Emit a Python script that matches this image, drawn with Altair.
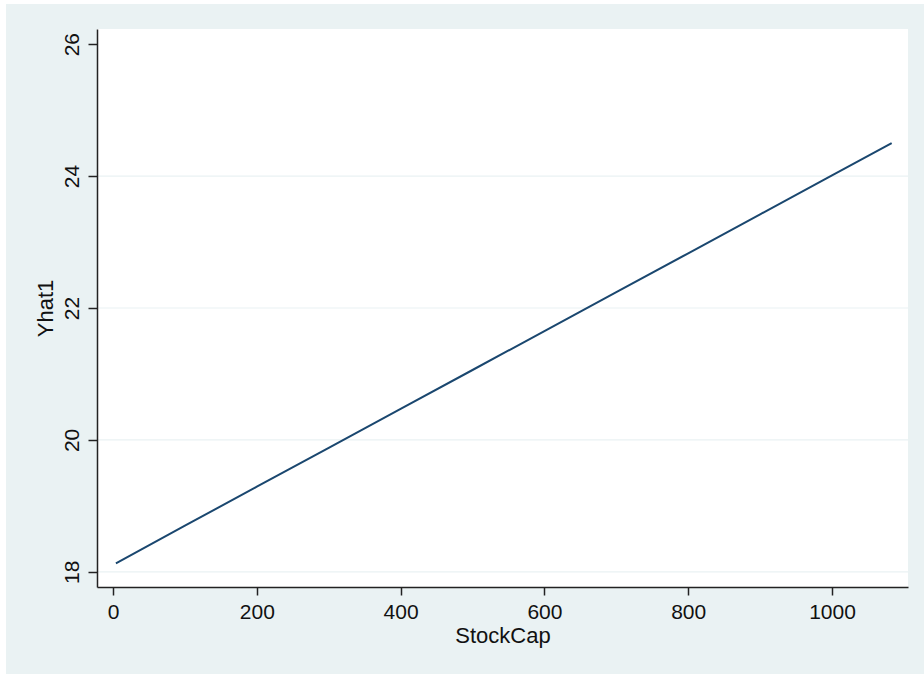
import altair as alt
import pandas as pd

# Fitted values of Yhat1 against StockCap
stock_cap = [4, 100, 200, 300, 400, 500, 600, 700, 800, 900, 1000, 1083]
yhat1 = [18.13, 18.70, 19.29, 19.88, 20.47, 21.06, 21.65, 22.24, 22.83, 23.42, 24.01, 24.50]

x_ticks = [0, 200, 400, 600, 800, 1000]
y_ticks = [18, 20, 22, 24, 26]
grid_levels = [18, 20, 22, 24]

W, H = 811, 558
FONT = "Liberation Sans"
REGION = "#EAF2F3"
LINE = "#1a476f"
INK = "#111111"

line_df = pd.DataFrame({"StockCap": stock_cap, "Yhat1": yhat1})
grid_df = pd.DataFrame({"level": grid_levels})
one_row = pd.DataFrame({"k": [0]})

x_scale = alt.Scale(domain=[-22.3, 1105.7], nice=False, zero=False)
y_scale = alt.Scale(domain=[17.77, 26.23], nice=False, zero=False)

x_axis = alt.Axis(
    values=x_ticks, format="d", grid=False, zindex=1,
    domainColor="#222222", domainWidth=1.5,
    tickColor="#222222", tickWidth=1.5, tickSize=8,
    labelFont=FONT, labelFontSize=21, labelColor=INK, labelPadding=6,
    titleFont=FONT, titleFontSize=22, titleFontWeight="normal",
    titleColor=INK, titlePadding=3,
)
y_axis = alt.Axis(
    values=y_ticks, grid=False, zindex=1,
    domainColor="#222222", domainWidth=1.5,
    tickColor="#222222", tickWidth=1.5, tickSize=9,
    labelFont=FONT, labelFontSize=21, labelColor=INK,
    labelAngle=270, labelAlign="center", labelBaseline="bottom", labelPadding=6,
    titleFont=FONT, titleFontSize=22, titleFontWeight="normal",
    titleColor=INK, titlePadding=4,
)

# Graph region (light bluish gray) and white plot region
region = alt.Chart(one_row).mark_rect(color=REGION).encode(
    x=alt.value(-91), x2=alt.value(827), y=alt.value(-25), y2=alt.value(645)
)
plot_bg = alt.Chart(one_row).mark_rect(color="white").encode(
    x=alt.value(0), x2=alt.value(W), y=alt.value(0), y2=alt.value(H)
)

grid = alt.Chart(grid_df).mark_rule(color=REGION, strokeWidth=1.2).encode(
    y=alt.Y("level:Q", scale=y_scale, title="Yhat1", axis=y_axis),
    x=alt.value(0), x2=alt.value(W),
)

line = alt.Chart(line_df).mark_line(color=LINE, strokeWidth=2).encode(
    x=alt.X("StockCap:Q", scale=x_scale, title="StockCap", axis=x_axis),
    y=alt.Y("Yhat1:Q", scale=y_scale, title="Yhat1", axis=y_axis),
)

chart = (
    alt.layer(region, plot_bg, grid, line)
    .properties(
        width=W, height=H, autosize="none",
        padding={"left": 97, "top": 29, "right": 16, "bottom": 87},
        background="white",
    )
    .configure_view(stroke=None)
)

chart.save("out.html", embed_options={"renderer": "svg", "actions": False})
